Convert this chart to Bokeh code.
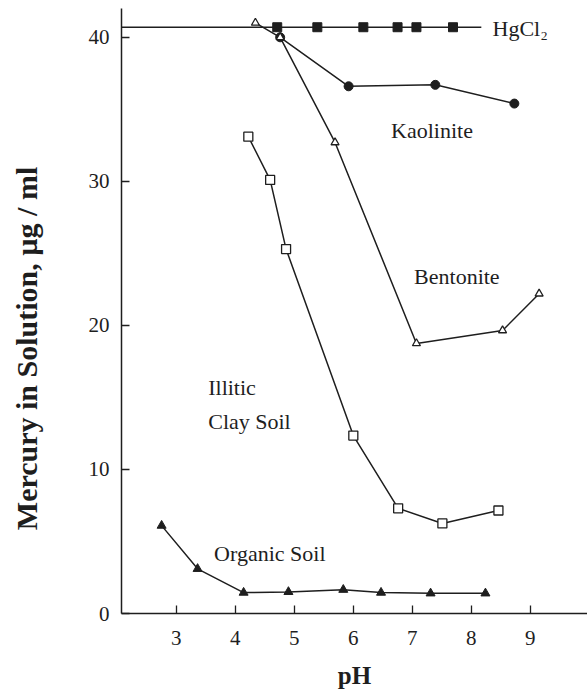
from bokeh.plotting import figure
from bokeh.models import Range1d, FixedTicker
from bokeh.core.properties import value
from bokeh.embed import file_html
from bokeh.resources import INLINE

# ---- data ----
hg_ph = [4.71, 5.39, 6.17, 6.75, 7.07, 7.69]
hg_val = [40.7, 40.7, 40.7, 40.7, 40.7, 40.7]
hg_line_ph = [2.07, 4.71, 5.39, 6.17, 6.75, 7.07, 7.69, 8.17]
hg_line_val = [40.7, 40.7, 40.7, 40.7, 40.7, 40.7, 40.7, 40.7]

kaol_ph = [4.76, 5.92, 7.39, 8.73]
kaol_val = [40.0, 36.6, 36.7, 35.4]

bent_ph = [4.34, 4.76, 5.69, 7.07, 8.53, 9.15]
bent_val = [41.0, 40.0, 32.7, 18.75, 19.65, 22.2]

illite_ph = [4.22, 4.59, 4.86, 6.00, 6.76, 7.51, 8.46]
illite_val = [33.1, 30.1, 25.3, 12.35, 7.3, 6.25, 7.15]

org_ph = [2.75, 3.36, 4.14, 4.90, 5.83, 6.47, 7.31, 8.24]
org_val = [6.1, 3.1, 1.45, 1.5, 1.65, 1.45, 1.4, 1.4]

x_ticks = [3, 4, 5, 6, 7, 8, 9]
y_ticks = [0, 10, 20, 30, 40]

x_title = "pH"
y_title = "Mercury in Solution, µg / ml"

INK = "#1e1e1e"
SERIF = "Liberation Serif"
NBSP = "\u00a0"

p = figure(width=587, height=695, output_backend="svg", toolbar_location=None,
           x_range=Range1d(2.07, 9.97), y_range=Range1d(0, 42.0),
           min_border_left=121, min_border_right=0, min_border_top=8,
           min_border_bottom=82)
p.outline_line_color = None
p.grid.visible = False
p.background_fill_color = "white"
p.border_fill_color = "white"

for ax in (p.xaxis[0], p.yaxis[0]):
    ax.axis_line_color = INK
    ax.axis_line_width = 1.5
    ax.major_tick_line_color = INK
    ax.major_tick_line_width = 1.3
    ax.major_tick_in = 8
    ax.major_tick_out = 0
    ax.minor_tick_line_color = None
    ax.major_label_text_font = SERIF
    ax.major_label_text_font_size = "21px"
    ax.major_label_text_color = INK
    ax.axis_label_text_font = SERIF
    ax.axis_label_text_font_style = "bold"
    ax.axis_label_text_color = INK

p.xaxis[0].ticker = FixedTicker(ticks=x_ticks)
p.yaxis[0].ticker = FixedTicker(ticks=y_ticks)
p.xaxis[0].major_label_standoff = 17
p.yaxis[0].major_label_standoff = 12

p.xaxis[0].axis_label = x_title
p.xaxis[0].axis_label_text_font_size = "25px"
p.xaxis[0].axis_label_standoff = 14

# y title sits lower than the frame centre in the original: pad its top end
p.yaxis[0].axis_label = y_title + NBSP * 10
p.yaxis[0].axis_label_text_font_size = "30px"
p.yaxis[0].axis_label_standoff = 43

LW = 1.5
# HgCl2
p.line(hg_line_ph, hg_line_val, line_color=INK, line_width=LW)
p.scatter(hg_ph, hg_val, marker="square", size=9, fill_color=INK, line_color=INK)
# Kaolinite
p.line(kaol_ph, kaol_val, line_color=INK, line_width=LW)
p.scatter(kaol_ph, kaol_val, marker="circle", size=9, fill_color=INK, line_color=INK)
# Bentonite
p.line(bent_ph, bent_val, line_color=INK, line_width=LW)
p.scatter(bent_ph, bent_val, marker="triangle", size=8, fill_color="white", line_color=INK, line_width=1.3)
# Illitic clay soil
p.line(illite_ph, illite_val, line_color=INK, line_width=LW)
p.scatter(illite_ph, illite_val, marker="square", size=9, fill_color="white", line_color=INK, line_width=1.3)
# Organic soil
p.line(org_ph, org_val, line_color=INK, line_width=LW)
p.scatter(org_ph, org_val, marker="triangle", size=9, fill_color=INK, line_color=INK)

# Series labels
lab = dict(text_font=value(SERIF), text_font_size="22px", text_color=INK,
           text_align="left", text_baseline="middle")
p.text(x=[8.36], y=[40.6], text=["HgCl₂"], **lab)
p.text(x=[6.64], y=[33.5], text=["Kaolinite"], **lab)
p.text(x=[7.03], y=[23.4], text=["Bentonite"], **lab)
p.text(x=[3.54], y=[15.7], text=["Illitic"], **lab)
p.text(x=[3.54], y=[13.3], text=["Clay Soil"], **lab)
p.text(x=[3.64], y=[4.2], text=["Organic Soil"], **lab)

open("out.html", "w").write(file_html(p, INLINE))
